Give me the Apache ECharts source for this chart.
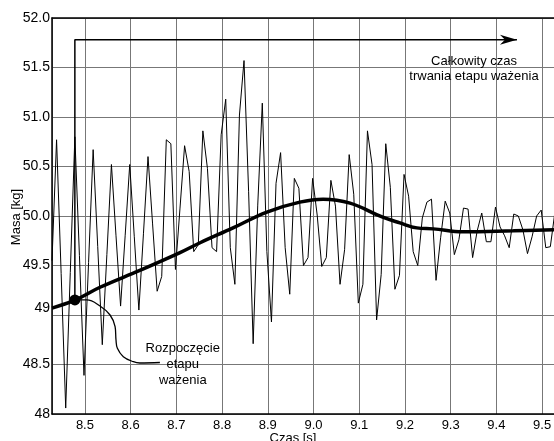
<!DOCTYPE html>
<html><head><meta charset="utf-8">
<script src="https://cdn.jsdelivr.net/npm/echarts@6/dist/echarts.min.js"></script>
<style>html,body{margin:0;padding:0;background:#fff}#c{width:554px;height:441px}</style>
</head><body><div id="c"></div>
<script>
// sample times [s] (100 Hz)
const sampleTimes = [
8.428,8.438,8.448,8.458,8.468,8.478,8.488,8.498,8.508,8.518,
8.528,8.538,8.548,8.558,8.568,8.578,8.588,8.598,8.608,8.618,
8.628,8.638,8.648,8.658,8.668,8.678,8.688,8.698,8.708,8.718,
8.728,8.738,8.748,8.758,8.768,8.778,8.788,8.798,8.808,8.818,
8.828,8.838,8.848,8.858,8.868,8.878,8.888,8.898,8.908,8.918,
8.928,8.938,8.948,8.958,8.968,8.978,8.988,8.998,9.008,9.018,
9.028,9.038,9.048,9.058,9.068,9.078,9.088,9.098,9.108,9.118,
9.128,9.138,9.148,9.158,9.168,9.178,9.188,9.198,9.208,9.218,
9.228,9.238,9.248,9.258,9.268,9.278,9.288,9.298,9.308,9.318,
9.328,9.338,9.348,9.358,9.368,9.378,9.388,9.398,9.408,9.418,
9.428,9.438,9.448,9.458,9.468,9.478,9.488,9.498,9.508,9.518,
9.528];
// raw mass signal [kg]
const massSignal = [
49.55,50.77,49.42,48.06,49.43,50.80,49.60,48.39,49.53,50.67,
49.69,48.70,49.61,50.52,49.80,49.09,49.80,50.52,49.79,49.05,
49.82,50.60,49.92,49.24,49.39,50.77,50.73,49.46,50.08,50.71,
50.45,49.64,49.71,50.86,50.48,49.68,49.64,50.82,51.18,49.68,
49.31,51.02,51.57,50.25,48.71,50.11,51.14,49.64,48.93,50.33,
50.64,49.68,49.21,50.38,50.28,49.50,49.58,50.38,50.01,49.49,
49.58,50.36,50.10,49.31,49.66,50.62,50.22,49.12,49.31,50.86,
50.52,48.95,49.41,50.73,50.29,49.26,49.40,50.42,50.20,49.64,
49.50,49.98,50.14,50.17,49.35,49.78,50.15,50.03,49.61,49.76,
50.08,50.07,49.58,49.85,50.03,49.74,49.74,50.09,49.89,49.80,
49.68,50.02,50.00,49.86,49.62,49.79,50.00,50.06,49.68,49.69,
50.04];
// filtered mass (thick curve)
const trendTimes  = [8.428,8.478,8.533,8.620,8.708,8.752,8.824,8.898,8.970,9.021,9.080,9.150,9.189,9.226,9.262,9.327,9.437,9.526];
const trendValues = [49.07,49.15,49.28,49.45,49.63,49.73,49.88,50.04,50.14,50.17,50.13,49.99,49.93,49.88,49.87,49.84,49.85,49.86];
// annotations
const startPoint = [8.478, 49.152];
const bracketTimes  = [8.478, 8.478, 9.445];
const bracketValues = [49.152, 51.78, 51.78];
const calloutTimes  = [8.478, 8.504, 8.533, 8.555, 8.566, 8.568, 8.571, 8.584, 8.606, 8.620, 8.664];
const calloutValues = [49.152, 49.152, 49.091, 49.0, 48.882, 48.747, 48.664, 48.579, 48.528, 48.515, 48.52];
const totalTimeLabel = 'Całkowity czas\ntrwania etapu ważenia';
const totalTimeAnchor = [9.351, 51.49];
const startLabel = 'Rozpoczęcie\netapu\nważenia';
const startLabelAnchor = [8.714, 48.505];
// ticks
const xTickValues = [8.5,8.6,8.7,8.8,8.9,9.0,9.1,9.2,9.3,9.4,9.5];
const xTickLabels = ['8.5','8.6','8.7','8.8','8.9','9.0','9.1','9.2','9.3','9.4','9.5'];
const yTickValues = [48,48.5,49,49.5,50,50.5,51,51.5,52];
const yTickLabels = ['48','48.5','49','49.5','50.0','50.5','51.0','51.5','52.0'];
const xTitle = 'Czas [s]';
const yTitle = 'Masa [kg]';

const FONT = '"Liberation Sans", Arial, sans-serif';
const zip = (a, b) => a.map((t, i) => [t, b[i]]);

const chart = echarts.init(document.getElementById('c'), null, {renderer: 'canvas'});
const option = {
  animation: false,
  backgroundColor: '#fff',
  grid: {left: 52, right: 0, top: 18, bottom: 27, containLabel: false, outerBoundsMode: 'none'},
  xAxis: [{
    type: 'value', min: 8.428, max: 9.526, splitNumber: 10,
    axisLine: {show: true, lineStyle: {color: '#000', width: 1.5}},
    axisTick: {show: false},
    splitLine: {show: true, lineStyle: {color: '#777', width: 1}},
    axisLabel: {
      color: '#000', fontSize: 13, fontFamily: FONT, margin: 5,
      showMinLabel: false, showMaxLabel: false,
      formatter: v => { const i = xTickValues.findIndex(x => Math.abs(x - v) < 1e-6); return i >= 0 ? xTickLabels[i] : ''; }
    }
  }, {
    type: 'value', position: 'top', min: 8.428, max: 9.526,
    axisLine: {show: true, lineStyle: {color: '#000', width: 1.5}},
    axisTick: {show: false}, axisLabel: {show: false}, splitLine: {show: false}
  }],
  yAxis: {
    type: 'value', min: 48, max: 52, interval: 0.5,
    axisLine: {show: true, lineStyle: {color: '#000', width: 1.5}},
    axisTick: {show: false},
    splitLine: {show: true, lineStyle: {color: '#777', width: 1}},
    axisLabel: {
      color: '#000', fontSize: 14, fontFamily: FONT, margin: 2,
      formatter: v => { const i = yTickValues.findIndex(y => Math.abs(y - v) < 1e-6); if (i < 0) return ''; const s = yTickLabels[i]; return s === '49' ? '{up|' + s + '}' : s; },
      rich: {up: {color: '#000', fontSize: 14, fontFamily: FONT, padding: [0, 0, 14, 0]}}
    }
  },
  series: [
    {type: 'line', name: 'signal', data: zip(sampleTimes, massSignal), symbol: 'none', z: 2,
     lineStyle: {color: '#000', width: 1}},
    {type: 'line', name: 'trend', data: zip(trendTimes, trendValues), symbol: 'none', smooth: 0.4, z: 3,
     lineStyle: {color: '#000', width: 3.5}},
    {type: 'line', name: 'bracket', data: zip(bracketTimes, bracketValues), symbol: 'none', z: 4,
     lineStyle: {color: '#000', width: 1.5}},
    {type: 'line', name: 'callout', data: zip(calloutTimes, calloutValues), symbol: 'none', smooth: 0.4, z: 4,
     lineStyle: {color: '#000', width: 1.3}},
    {type: 'scatter', name: 'start', data: [startPoint], symbol: 'circle', symbolSize: 11, z: 8,
     itemStyle: {color: '#000', opacity: 1}}
  ]
};
chart.setOption(option);

const tip = chart.convertToPixel({gridIndex: 0}, [bracketTimes[2], bracketValues[2]]);
const pA = chart.convertToPixel({gridIndex: 0}, totalTimeAnchor);
const pB = chart.convertToPixel({gridIndex: 0}, startLabelAnchor);
chart.setOption({
  graphic: [
    {type: 'polygon', z: 10, shape: {points: [[tip[0], tip[1]], [tip[0] - 17, tip[1] - 5], [tip[0] - 12, tip[1]], [tip[0] - 17, tip[1] + 5]]}, style: {fill: '#000'}},
    {type: 'text', z: 10, x: pA[0], y: pA[1], style: {text: totalTimeLabel, fill: '#000', font: '13px ' + FONT, align: 'center', verticalAlign: 'middle', lineHeight: 15}},
    {type: 'text', z: 10, x: pB[0], y: pB[1], style: {text: startLabel, fill: '#000', font: '13px ' + FONT, align: 'center', verticalAlign: 'middle', lineHeight: 16}},
    {type: 'text', z: 10, x: 293, y: 438, style: {text: xTitle, fill: '#000', font: '13px ' + FONT, align: 'center', verticalAlign: 'middle'}},
    {type: 'text', z: 10, x: 16, y: 217, rotation: Math.PI / 2, style: {text: yTitle, fill: '#000', font: '13px ' + FONT, align: 'center', verticalAlign: 'middle'}}
  ]
});
</script></body></html>
